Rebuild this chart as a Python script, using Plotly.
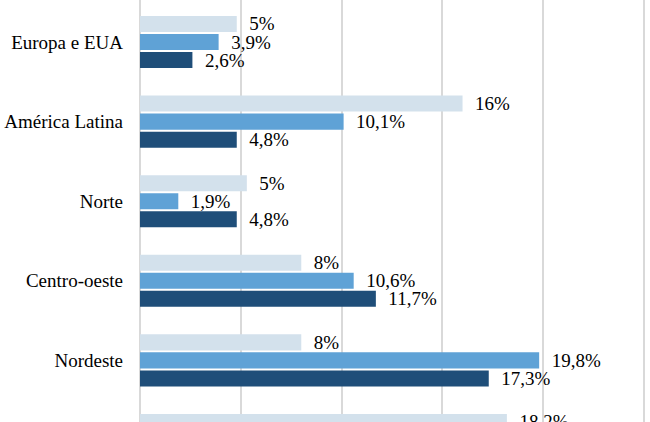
import plotly.graph_objects as go

categories = ["Europa e EUA", "América Latina", "Norte", "Centro-oeste", "Nordeste", "Sudeste"]
serie_a = [4.8, 16.0, 5.3, 8.0, 8.0, 18.2]
serie_a_text = ["5%", "16%", "5%", "8%", "8%", "18,2%"]
serie_b = [3.9, 10.1, 1.9, 10.6, 19.8, None]
serie_b_text = ["3,9%", "10,1%", "1,9%", "10,6%", "19,8%", ""]
serie_c = [2.6, 4.8, 4.8, 11.7, 17.3, None]
serie_c_text = ["2,6%", "4,8%", "4,8%", "11,7%", "17,3%", ""]

colors = ["#d3e1ec", "#5fa2d6", "#1f4e79"]
font_family = "Liberation Serif"
pad = "\u00a0\u00a0"

fig = go.Figure()
for vals, txt, col in [(serie_a, serie_a_text, colors[0]),
                       (serie_b, serie_b_text, colors[1]),
                       (serie_c, serie_c_text, colors[2])]:
    fig.add_trace(go.Bar(
        y=categories, x=vals, orientation="h",
        marker=dict(color=col, line=dict(width=0)),
        text=[pad + t if t else "" for t in txt],
        textposition="outside", cliponaxis=True, constraintext="none",
        textfont=dict(family=font_family, size=19, color="black"),
        hoverinfo="skip",
    ))

fig.update_layout(
    width=650, height=422,
    margin=dict(l=140, r=4, t=0, b=0),
    paper_bgcolor="white", plot_bgcolor="white",
    barmode="group", bargap=0.32, bargroupgap=0.11,
    showlegend=False,
    font=dict(family=font_family, size=19, color="black"),
    xaxis=dict(range=[0, 25.1], dtick=5, showgrid=True, gridcolor="#d9d9d9",
               gridwidth=1.5, zeroline=True, zerolinecolor="#d9d9d9",
               zerolinewidth=1.5, showticklabels=False, showline=False),
    yaxis=dict(type="category", range=[4.774, -0.528], showgrid=False,
               ticks="", ticklabelstandoff=16, showline=False,
               tickfont=dict(family=font_family, size=19, color="black")),
)

fig.write_html("out.html", config={"displayModeBar": False},
               post_script="document.body.style.margin='0';document.body.style.overflow='hidden';")
